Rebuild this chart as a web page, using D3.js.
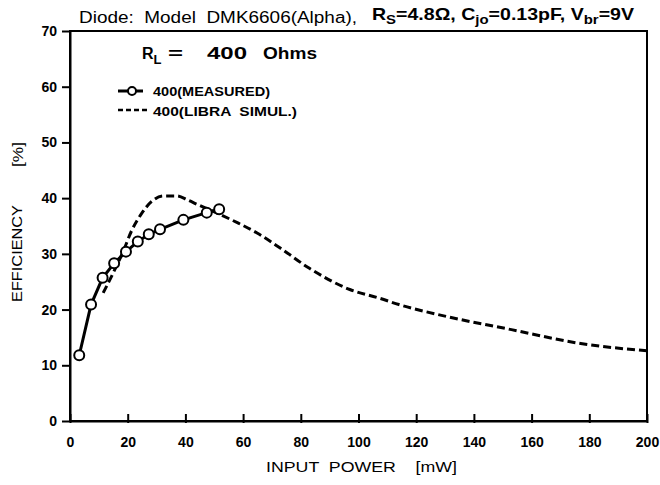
<!DOCTYPE html>
<html>
<head>
<meta charset="utf-8">
<script src="https://cdn.jsdelivr.net/npm/d3@7"></script>
<style>
  body { margin: 0; background: #fff; }
  text { font-family: "Liberation Sans", Arial, sans-serif; fill: #000; }
</style>
</head>
<body>
<svg id="chart" width="660" height="485"></svg>
<script>
// measured efficiency (circles)
const measuredPower = [3.2, 7.3, 11.3, 15.3, 19.4, 23.5, 27.3, 31.2, 39.3, 47.4, 51.7];
const measuredEff = [11.8, 20.9, 25.7, 28.3, 30.4, 32.2, 33.5, 34.4, 36.1, 37.4, 38.0];

// LIBRA simulation (dashed)
const simPower = [11.5, 15, 18.4, 21.4, 24.9, 28.3, 32.3, 37, 41, 44, 51, 58, 65, 73, 83, 97, 107.5, 114, 131, 153, 177, 200];
const simEff = [23.0, 26.6, 30.4, 34.2, 37.3, 39.4, 40.4, 40.4, 39.6, 38.9, 37.3, 35.6, 33.7, 31.0, 27.4, 23.6, 22.0, 20.9, 18.7, 16.4, 13.9, 12.6];

const xTicks = [0, 20, 40, 60, 80, 100, 120, 140, 160, 180, 200];
const yTicks = [0, 10, 20, 30, 40, 50, 60, 70];

const margin = { left: 70, right: 13, top: 31, bottom: 64 };
const width = 660, height = 485;

const svg = d3.select('#chart');

const x = d3.scaleLinear().domain([0, 200]).range([margin.left, width - margin.right]);
const y = d3.scaleLinear().domain([0, 70]).range([height - margin.bottom, margin.top]);

// frame
svg.append('rect')
  .attr('x', x(0)).attr('y', y(70))
  .attr('width', x(200) - x(0)).attr('height', y(0) - y(70))
  .attr('fill', 'none').attr('stroke', '#000').attr('stroke-width', 2);

// x axis (ticks point inward)
const xAxis = svg.append('g')
  .attr('transform', `translate(0,${y(0)})`)
  .call(d3.axisBottom(x).tickValues(xTicks).tickSizeInner(-7).tickSizeOuter(0).tickPadding(16));
xAxis.select('.domain').attr('stroke-width', 2);
xAxis.selectAll('.tick line').attr('stroke-width', 2).attr('y2', -7).attr('y1', 2);
xAxis.selectAll('text').style('font-size', '14px').style('font-weight', 'bold');

// y axis
const yAxis = svg.append('g')
  .attr('transform', `translate(${x(0)},0)`)
  .call(d3.axisLeft(y).tickValues(yTicks).tickSize(8).tickSizeOuter(0).tickPadding(5));
yAxis.select('.domain').attr('stroke-width', 2);
yAxis.selectAll('.tick line').attr('stroke-width', 2);
yAxis.selectAll('text').style('font-size', '14px').style('font-weight', 'bold');

// axis titles
svg.append('text')
  .attr('x', 266).attr('y', 472)
  .style('font-size', '15px')
  .attr('textLength', 191)
  .attr('lengthAdjust', 'spacingAndGlyphs')
  .attr('xml:space', 'preserve')
  .text('INPUT  POWER    [mW]');

svg.append('text')
  .attr('transform', 'translate(22,302) rotate(-90)')
  .style('font-size', '14px')
  .attr('textLength', 97)
  .attr('lengthAdjust', 'spacingAndGlyphs')
  .text('EFFICIENCY');

svg.append('text')
  .attr('transform', 'translate(23,167) rotate(-90)')
  .style('font-size', '15px')
  .attr('textLength', 25)
  .attr('lengthAdjust', 'spacingAndGlyphs')
  .text('[%]');

// title
svg.append('text')
  .attr('x', 79).attr('y', 22.5)
  .style('font-size', '16px')
  .attr('textLength', 278)
  .attr('lengthAdjust', 'spacingAndGlyphs')
  .attr('xml:space', 'preserve')
  .text('Diode:  Model  DMK6606(Alpha),');

const t2 = svg.append('text')
  .attr('x', 372).attr('y', 20)
  .style('font-size', '17px')
  .style('font-weight', 'bold')
  .attr('textLength', 262)
  .attr('lengthAdjust', 'spacingAndGlyphs');
t2.append('tspan').text('R');
t2.append('tspan').attr('dy', 4).style('font-size', '13px').text('S');
t2.append('tspan').attr('dy', -4).text('=4.8Ω, C');
t2.append('tspan').attr('dy', 4).style('font-size', '13px').text('jo');
t2.append('tspan').attr('dy', -4).text('=0.13pF, V');
t2.append('tspan').attr('dy', 4).style('font-size', '13px').text('br');
t2.append('tspan').attr('dy', -4).text('=9V');

// R_L annotation
const rl = svg.append('text')
  .attr('x', 142).attr('y', 59)
  .style('font-size', '16px')
  .style('font-weight', 'bold');
rl.append('tspan').text('R');
rl.append('tspan').attr('dy', 5).style('font-size', '13px').text('L');
[['=', 168, 15], ['400', 207, 40], ['Ohms', 263, 54]].forEach(([s, px, w]) => {
  svg.append('text')
    .attr('x', px).attr('y', 59)
    .style('font-size', '16px')
    .style('font-weight', 'bold')
    .attr('textLength', w)
    .attr('lengthAdjust', 'spacingAndGlyphs')
    .text(s);
});

// lines
const line = d3.line().x((d) => x(d[0])).y((d) => y(d[1]));

svg.append('path')
  .attr('d', d3.line().curve(d3.curveMonotoneX).x((d) => x(d[0])).y((d) => y(d[1]))(d3.zip(simPower, simEff)))
  .attr('fill', 'none')
  .attr('stroke', '#000')
  .attr('stroke-width', 3)
  .attr('stroke-dasharray', '8,4');

svg.append('path')
  .attr('d', line(d3.zip(measuredPower, measuredEff)))
  .attr('fill', 'none')
  .attr('stroke', '#000')
  .attr('stroke-width', 3);

svg.selectAll('circle.meas')
  .data(d3.zip(measuredPower, measuredEff))
  .enter()
  .append('circle')
  .attr('class', 'meas')
  .attr('cx', (d) => x(d[0]))
  .attr('cy', (d) => y(d[1]))
  .attr('r', 5)
  .attr('fill', '#fff')
  .attr('stroke', '#000')
  .attr('stroke-width', 2);

// legend
const lg = svg.append('g');
lg.append('line').attr('x1', 118).attr('x2', 143).attr('y1', 91).attr('y2', 91)
  .attr('stroke', '#000').attr('stroke-width', 3);
lg.append('circle').attr('cx', 132).attr('cy', 91).attr('r', 4)
  .attr('fill', '#fff').attr('stroke', '#000').attr('stroke-width', 2);
lg.append('text').attr('x', 153).attr('y', 96)
  .style('font-size', '13px').style('font-weight', 'bold')
  .attr('textLength', 117).attr('lengthAdjust', 'spacingAndGlyphs')
  .text('400(MEASURED)');
lg.append('line').attr('x1', 118).attr('x2', 150).attr('y1', 110).attr('y2', 110)
  .attr('stroke', '#000').attr('stroke-width', 2.5).attr('stroke-dasharray', '5,3');
lg.append('text').attr('x', 153).attr('y', 116)
  .style('font-size', '13px').style('font-weight', 'bold')
  .attr('textLength', 144).attr('lengthAdjust', 'spacingAndGlyphs')
  .attr('xml:space', 'preserve')
  .text('400(LIBRA  SIMUL.)');
</script>
</body>
</html>
